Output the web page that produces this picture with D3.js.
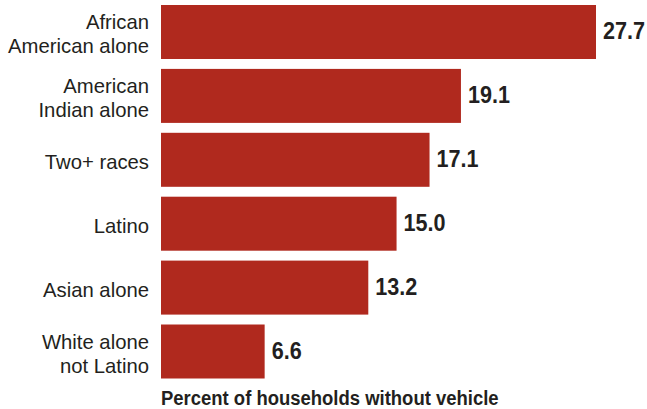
<!DOCTYPE html>
<html>
<head>
<meta charset="utf-8">
<script src="https://cdn.jsdelivr.net/npm/d3@7"></script>
<style>
  html, body { margin: 0; padding: 0; background: #fff; }
  svg { display: block; }
  .cat { font-family: "Liberation Sans", Arial, sans-serif; font-size: 20.3px; fill: #231f20; }
  .val { font-family: "Liberation Sans", Arial, sans-serif; font-weight: bold; font-size: 23.5px; fill: #231f20; }
  .title { font-family: "Liberation Sans", Arial, sans-serif; font-weight: bold; font-size: 21px; fill: #231f20; }
</style>
</head>
<body>
<svg id="chart" width="647" height="409"></svg>
<script>
// Share of households without a vehicle, by race / ethnicity
const categories = [
  ["African", "American alone"],
  ["American", "Indian alone"],
  ["Two+ races"],
  ["Latino"],
  ["Asian alone"],
  ["White alone", "not Latino"]
];
const values = [27.7, 19.1, 17.1, 15.0, 13.2, 6.6];
const axisTitle = "Percent of households without vehicle";

const svg = d3.select("#chart");
const keys = categories.map(c => c.join(" "));

const x = d3.scaleLinear().domain([0, 27.7]).range([161, 596]);
const y = d3.scaleBand().domain(keys).range([5, 378.5]).paddingInner(0.155).paddingOuter(0);

const rows = svg.selectAll("g.row")
  .data(keys.map((k, i) => ({ key: k, lines: categories[i], value: values[i] })))
  .join("g")
  .attr("class", "row");

rows.append("rect")
  .attr("x", x(0))
  .attr("y", d => y(d.key))
  .attr("width", d => x(d.value) - x(0))
  .attr("height", y.bandwidth())
  .attr("fill", "#b0291e");

// value labels, set in a narrowed bold face
rows.append("text")
  .attr("class", "val")
  .attr("transform", d => `translate(${x(d.value) + 7},${y(d.key) + y.bandwidth() / 2 + 7.5}) scale(0.92,1)`)
  .text(d => d.value.toFixed(1));

// category labels, one text element per line, right-aligned left of the bars
const lineH = 24;
rows.each(function (d) {
  const cy = y(d.key) + y.bandwidth() / 2 + 9.5;
  const n = d.lines.length;
  d3.select(this).selectAll("text.cat")
    .data(d.lines)
    .join("text")
    .attr("class", "cat")
    .attr("text-anchor", "end")
    .attr("x", x(0) - 12)
    .attr("y", (t, i) => cy + (i - (n - 1) / 2) * lineH)
    .text(t => t);
});

svg.append("text")
  .attr("class", "title")
  .attr("transform", `translate(${x(0)},404.5) scale(0.88,1)`)
  .text(axisTitle);
</script>
</body>
</html>
